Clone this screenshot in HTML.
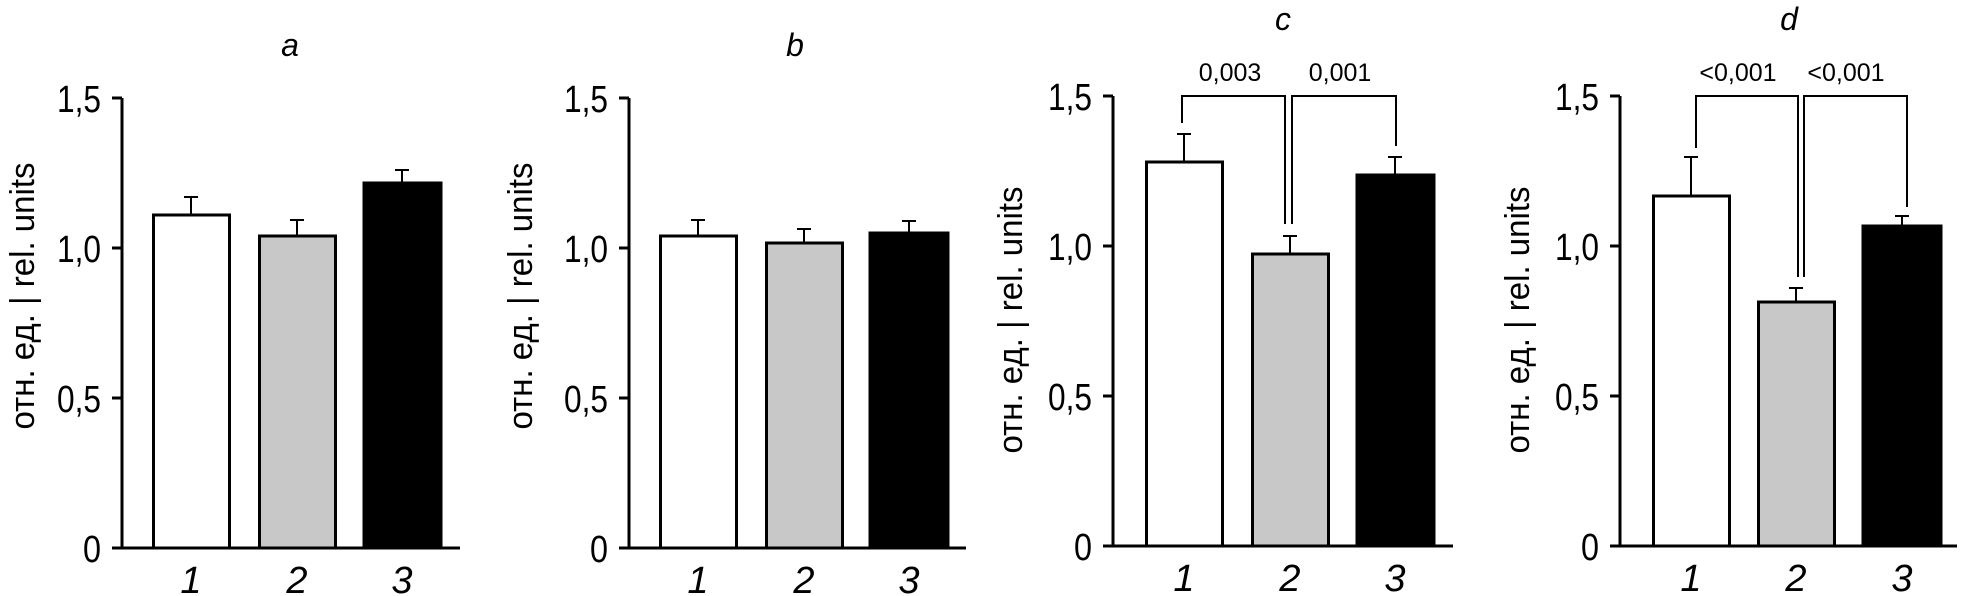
<!DOCTYPE html>
<html><head><meta charset="utf-8"><style>
html,body{margin:0;padding:0;background:#fff;}
svg{display:block;}
text{font-family:"Liberation Sans","DejaVu Sans",sans-serif;fill:#000;}
.t{font-size:38px;}
.yl{font-size:34px;}
.xl{font-size:38px;font-style:italic;}
.ti{font-size:32px;font-style:italic;}
.p{font-size:25px;}
</style></head><body>
<svg width="1964" height="596" viewBox="0 0 1964 596" xmlns="http://www.w3.org/2000/svg">
<g stroke="#000" fill="none">
<!-- Panel a -->
<g stroke-width="3">
<line x1="122" y1="98" x2="122" y2="548"/><line x1="112" y1="548" x2="460" y2="548"/>
<line x1="112" y1="98" x2="122" y2="98"/><line x1="112" y1="248" x2="122" y2="248"/><line x1="112" y1="398" x2="122" y2="398"/>
<rect x="153.5" y="215" width="76" height="333" fill="#fff"/>
<rect x="259.5" y="236" width="76" height="312" fill="#c8c8c8"/>
<rect x="364" y="183" width="77" height="365" fill="#000"/>
</g>
<g stroke-width="2">
<path d="M191 215V197M184 197H198M297 236V220M290 220H304M402 183V170M395 170H409"/>
</g>
<!-- Panel b -->
<g stroke-width="3">
<line x1="629" y1="98" x2="629" y2="548"/><line x1="619" y1="548" x2="966" y2="548"/>
<line x1="619" y1="98" x2="629" y2="98"/><line x1="619" y1="248" x2="629" y2="248"/><line x1="619" y1="398" x2="629" y2="398"/>
<rect x="660.5" y="236" width="76" height="312" fill="#fff"/>
<rect x="766.5" y="243" width="76" height="305" fill="#c8c8c8"/>
<rect x="870" y="233" width="78" height="315" fill="#000"/>
</g>
<g stroke-width="2">
<path d="M698 236V220M691 220H705M804 243V229M797 229H811M909 233V221M902 221H916"/>
</g>
<!-- Panel c -->
<g stroke-width="3">
<line x1="1113" y1="96" x2="1113" y2="546"/><line x1="1103" y1="546" x2="1453" y2="546"/>
<line x1="1103" y1="96" x2="1113" y2="96"/><line x1="1103" y1="246" x2="1113" y2="246"/><line x1="1103" y1="396" x2="1113" y2="396"/>
<rect x="1146.5" y="162" width="76" height="384" fill="#fff"/>
<rect x="1252.5" y="254" width="76" height="292" fill="#c8c8c8"/>
<rect x="1357" y="175" width="77" height="371" fill="#000"/>
</g>
<g stroke-width="2">
<path d="M1184 162V134M1177 134H1191M1290 254V236M1283 236H1297M1395 175V157M1388 157H1402"/>
<path d="M1182 123V96H1285V224M1292 224V96H1396V146"/>
</g>
<!-- Panel d -->
<g stroke-width="3">
<line x1="1620" y1="96" x2="1620" y2="546"/><line x1="1610" y1="546" x2="1957" y2="546"/>
<line x1="1610" y1="96" x2="1620" y2="96"/><line x1="1610" y1="246" x2="1620" y2="246"/><line x1="1610" y1="396" x2="1620" y2="396"/>
<rect x="1653.5" y="196" width="76" height="350" fill="#fff"/>
<rect x="1758.5" y="302" width="76" height="244" fill="#c8c8c8"/>
<rect x="1863" y="226" width="78" height="320" fill="#000"/>
</g>
<g stroke-width="2">
<path d="M1691 196V157M1684 157H1698M1796 302V288M1789 288H1803M1902 226V216M1895 216H1909"/>
<path d="M1696 148V96H1798V277M1804 277V96H1907V207"/>
</g>
</g>
<!-- text panel a -->
<text class="ti" x="290" y="56" text-anchor="middle">a</text>
<g class="t" text-anchor="end">
<text x="101" y="112" textLength="44" lengthAdjust="spacingAndGlyphs">1,5</text><text x="101" y="262" textLength="44" lengthAdjust="spacingAndGlyphs">1,0</text><text x="101" y="412" textLength="44" lengthAdjust="spacingAndGlyphs">0,5</text><text x="101" y="562" textLength="18" lengthAdjust="spacingAndGlyphs">0</text>
</g>
<text class="yl" transform="translate(34,296) rotate(-90)" text-anchor="middle" textLength="267" lengthAdjust="spacingAndGlyphs">отн. ед. | rel. units</text>
<g class="xl" text-anchor="middle"><text x="191" y="593">1</text><text x="297" y="593">2</text><text x="402" y="593">3</text></g>
<!-- b -->
<text class="ti" x="795" y="56" text-anchor="middle">b</text>
<g class="t" text-anchor="end">
<text x="608" y="112" textLength="44" lengthAdjust="spacingAndGlyphs">1,5</text><text x="608" y="262" textLength="44" lengthAdjust="spacingAndGlyphs">1,0</text><text x="608" y="412" textLength="44" lengthAdjust="spacingAndGlyphs">0,5</text><text x="608" y="562" textLength="18" lengthAdjust="spacingAndGlyphs">0</text>
</g>
<text class="yl" transform="translate(532,296) rotate(-90)" text-anchor="middle" textLength="267" lengthAdjust="spacingAndGlyphs">отн. ед. | rel. units</text>
<g class="xl" text-anchor="middle"><text x="698" y="593">1</text><text x="804" y="593">2</text><text x="909" y="593">3</text></g>
<!-- c -->
<text class="ti" x="1283" y="30" text-anchor="middle">c</text>
<g class="t" text-anchor="end">
<text x="1092" y="110" textLength="44" lengthAdjust="spacingAndGlyphs">1,5</text><text x="1092" y="260" textLength="44" lengthAdjust="spacingAndGlyphs">1,0</text><text x="1092" y="410" textLength="44" lengthAdjust="spacingAndGlyphs">0,5</text><text x="1092" y="560" textLength="18" lengthAdjust="spacingAndGlyphs">0</text>
</g>
<text class="yl" transform="translate(1022,320) rotate(-90)" text-anchor="middle" textLength="267" lengthAdjust="spacingAndGlyphs">отн. ед. | rel. units</text>
<g class="p" text-anchor="middle"><text x="1230" y="81">0,003</text><text x="1340" y="81">0,001</text></g>
<g class="xl" text-anchor="middle"><text x="1184" y="591">1</text><text x="1290" y="591">2</text><text x="1395" y="591">3</text></g>
<!-- d -->
<text class="ti" x="1789" y="30" text-anchor="middle">d</text>
<g class="t" text-anchor="end">
<text x="1599" y="110" textLength="44" lengthAdjust="spacingAndGlyphs">1,5</text><text x="1599" y="260" textLength="44" lengthAdjust="spacingAndGlyphs">1,0</text><text x="1599" y="410" textLength="44" lengthAdjust="spacingAndGlyphs">0,5</text><text x="1599" y="560" textLength="18" lengthAdjust="spacingAndGlyphs">0</text>
</g>
<text class="yl" transform="translate(1529,320) rotate(-90)" text-anchor="middle" textLength="267" lengthAdjust="spacingAndGlyphs">отн. ед. | rel. units</text>
<g class="p" text-anchor="middle"><text x="1738" y="81">&lt;0,001</text><text x="1846" y="81">&lt;0,001</text></g>
<g class="xl" text-anchor="middle"><text x="1691" y="591">1</text><text x="1796" y="591">2</text><text x="1902" y="591">3</text></g>
</svg>
</body></html>
